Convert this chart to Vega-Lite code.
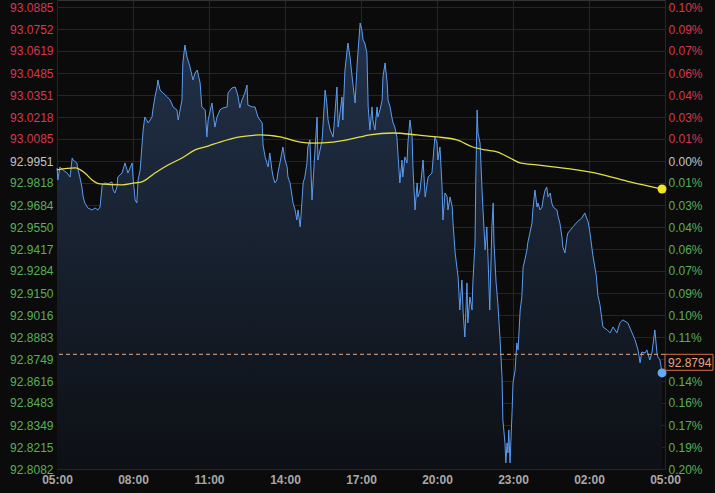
{
  "$schema": "https://vega.github.io/schema/vega-lite/v6.json",
  "width": 608,
  "height": 469,
  "autosize": {"type": "none"},
  "padding": {"left": 57, "top": 0, "right": 50, "bottom": 24},
  "background": "#0b0b0b",
  "config": {
    "view": {"stroke": "#333333", "fill": "#0b0b0b"},
    "axis": {"labelFont": "Liberation Sans", "labelFontSize": 12, "gridColor": "#262626", "gridWidth": 1, "domain": false, "ticks": false, "title": null}
  },
  "datasets": {
    "price": [
      {"t":"2024-01-01T05:00","p":92.9909},{"t":"2024-01-01T05:02","p":92.9836},{"t":"2024-01-01T05:07","p":92.9915},{"t":"2024-01-01T05:14","p":92.9897},{"t":"2024-01-01T05:24","p":92.9878},{"t":"2024-01-01T05:31","p":92.9854},{"t":"2024-01-01T05:36","p":92.9969},{"t":"2024-01-01T05:38","p":92.9957},{"t":"2024-01-01T05:47","p":92.9939},{"t":"2024-01-01T05:50","p":92.9897},{"t":"2024-01-01T05:54","p":92.9854},{"t":"2024-01-01T05:59","p":92.9793},{"t":"2024-01-01T06:02","p":92.9733},{"t":"2024-01-01T06:06","p":92.9696},{"t":"2024-01-01T06:13","p":92.9666},{"t":"2024-01-01T06:23","p":92.9654},{"t":"2024-01-01T06:30","p":92.9666},{"t":"2024-01-01T06:37","p":92.9654},{"t":"2024-01-01T06:42","p":92.9672},{"t":"2024-01-01T06:47","p":92.9806},{"t":"2024-01-01T06:54","p":92.9818},{"t":"2024-01-01T07:01","p":92.9812},{"t":"2024-01-01T07:10","p":92.9824},{"t":"2024-01-01T07:13","p":92.9775},{"t":"2024-01-01T07:17","p":92.9757},{"t":"2024-01-01T07:22","p":92.9793},{"t":"2024-01-01T07:24","p":92.9854},{"t":"2024-01-01T07:34","p":92.9878},{"t":"2024-01-01T07:41","p":92.9939},{"t":"2024-01-01T07:46","p":92.9897},{"t":"2024-01-01T07:48","p":92.9878},{"t":"2024-01-01T07:58","p":92.9939},{"t":"2024-01-01T08:00","p":92.9854},{"t":"2024-01-01T08:05","p":92.9715},{"t":"2024-01-01T08:09","p":92.9696},{"t":"2024-01-01T08:12","p":92.9836},{"t":"2024-01-01T08:17","p":92.9897},{"t":"2024-01-01T08:21","p":93.0036},{"t":"2024-01-01T08:24","p":93.0139},{"t":"2024-01-01T08:28","p":93.0218},{"t":"2024-01-01T08:36","p":93.0182},{"t":"2024-01-01T08:45","p":93.0218},{"t":"2024-01-01T08:47","p":93.0261},{"t":"2024-01-01T08:52","p":93.0340},{"t":"2024-01-01T08:57","p":93.0400},{"t":"2024-01-01T08:59","p":93.0443},{"t":"2024-01-01T09:04","p":93.0382},{"t":"2024-01-01T09:11","p":93.0364},{"t":"2024-01-01T09:21","p":93.0340},{"t":"2024-01-01T09:28","p":93.0321},{"t":"2024-01-01T09:35","p":93.0279},{"t":"2024-01-01T09:44","p":93.0261},{"t":"2024-01-01T09:47","p":93.0200},{"t":"2024-01-01T09:56","p":93.0321},{"t":"2024-01-01T09:58","p":93.0546},{"t":"2024-01-01T10:03","p":93.0655},{"t":"2024-01-01T10:08","p":93.0582},{"t":"2024-01-01T10:15","p":93.0522},{"t":"2024-01-01T10:22","p":93.0443},{"t":"2024-01-01T10:27","p":93.0485},{"t":"2024-01-01T10:32","p":93.0503},{"t":"2024-01-01T10:39","p":93.0424},{"t":"2024-01-01T10:43","p":93.0279},{"t":"2024-01-01T10:51","p":93.0261},{"t":"2024-01-01T10:55","p":93.0097},{"t":"2024-01-01T10:58","p":93.0200},{"t":"2024-01-01T11:07","p":93.0303},{"t":"2024-01-01T11:09","p":93.0261},{"t":"2024-01-01T11:14","p":93.0157},{"t":"2024-01-01T11:19","p":93.0218},{"t":"2024-01-01T11:26","p":93.0261},{"t":"2024-01-01T11:33","p":93.0273},{"t":"2024-01-01T11:43","p":93.0279},{"t":"2024-01-01T11:45","p":93.0364},{"t":"2024-01-01T11:54","p":93.0394},{"t":"2024-01-01T12:02","p":93.0400},{"t":"2024-01-01T12:06","p":93.0370},{"t":"2024-01-01T12:09","p":93.0340},{"t":"2024-01-01T12:13","p":93.0273},{"t":"2024-01-01T12:18","p":93.0321},{"t":"2024-01-01T12:25","p":93.0364},{"t":"2024-01-01T12:30","p":93.0412},{"t":"2024-01-01T12:32","p":93.0291},{"t":"2024-01-01T12:42","p":93.0279},{"t":"2024-01-01T12:49","p":93.0279},{"t":"2024-01-01T12:56","p":93.0218},{"t":"2024-01-01T13:06","p":93.0182},{"t":"2024-01-01T13:08","p":93.0048},{"t":"2024-01-01T13:13","p":92.9976},{"t":"2024-01-01T13:17","p":92.9939},{"t":"2024-01-01T13:20","p":92.9915},{"t":"2024-01-01T13:24","p":93.0000},{"t":"2024-01-01T13:29","p":92.9897},{"t":"2024-01-01T13:32","p":92.9854},{"t":"2024-01-01T13:36","p":92.9818},{"t":"2024-01-01T13:41","p":92.9836},{"t":"2024-01-01T13:43","p":92.9878},{"t":"2024-01-01T13:48","p":92.9939},{"t":"2024-01-01T13:55","p":93.0036},{"t":"2024-01-01T14:00","p":92.9957},{"t":"2024-01-01T14:05","p":92.9915},{"t":"2024-01-01T14:07","p":92.9854},{"t":"2024-01-01T14:12","p":92.9818},{"t":"2024-01-01T14:17","p":92.9733},{"t":"2024-01-01T14:19","p":92.9696},{"t":"2024-01-01T14:24","p":92.9654},{"t":"2024-01-01T14:28","p":92.9593},{"t":"2024-01-01T14:31","p":92.9654},{"t":"2024-01-01T14:36","p":92.9551},{"t":"2024-01-01T14:40","p":92.9696},{"t":"2024-01-01T14:43","p":92.9818},{"t":"2024-01-01T14:47","p":92.9854},{"t":"2024-01-01T14:52","p":92.9939},{"t":"2024-01-01T14:54","p":93.0036},{"t":"2024-01-01T14:59","p":93.0079},{"t":"2024-01-01T15:04","p":92.9715},{"t":"2024-01-01T15:11","p":93.0018},{"t":"2024-01-01T15:16","p":93.0218},{"t":"2024-01-01T15:18","p":92.9957},{"t":"2024-01-01T15:28","p":93.0079},{"t":"2024-01-01T15:35","p":93.0382},{"t":"2024-01-01T15:39","p":93.0303},{"t":"2024-01-01T15:42","p":93.0200},{"t":"2024-01-01T15:47","p":93.0139},{"t":"2024-01-01T15:54","p":93.0097},{"t":"2024-01-01T16:03","p":93.0400},{"t":"2024-01-01T16:06","p":93.0157},{"t":"2024-01-01T16:15","p":93.0340},{"t":"2024-01-01T16:17","p":93.0200},{"t":"2024-01-01T16:22","p":93.0503},{"t":"2024-01-01T16:29","p":93.0667},{"t":"2024-01-01T16:34","p":93.0582},{"t":"2024-01-01T16:39","p":93.0461},{"t":"2024-01-01T16:46","p":93.0303},{"t":"2024-01-01T16:51","p":93.0546},{"t":"2024-01-01T16:58","p":93.0788},{"t":"2024-01-01T17:02","p":93.0746},{"t":"2024-01-01T17:05","p":93.0685},{"t":"2024-01-01T17:09","p":93.0667},{"t":"2024-01-01T17:14","p":93.0606},{"t":"2024-01-01T17:17","p":93.0279},{"t":"2024-01-01T17:21","p":93.0139},{"t":"2024-01-01T17:26","p":93.0279},{"t":"2024-01-01T17:28","p":93.0200},{"t":"2024-01-01T17:33","p":93.0139},{"t":"2024-01-01T17:38","p":93.0279},{"t":"2024-01-01T17:40","p":93.0218},{"t":"2024-01-01T17:45","p":93.0261},{"t":"2024-01-01T17:50","p":93.0321},{"t":"2024-01-01T17:52","p":93.0461},{"t":"2024-01-01T17:57","p":93.0546},{"t":"2024-01-01T18:02","p":93.0424},{"t":"2024-01-01T18:04","p":93.0321},{"t":"2024-01-01T18:09","p":93.0279},{"t":"2024-01-01T18:13","p":93.0218},{"t":"2024-01-01T18:16","p":93.0182},{"t":"2024-01-01T18:20","p":93.0157},{"t":"2024-01-01T18:25","p":93.0097},{"t":"2024-01-01T18:28","p":92.9976},{"t":"2024-01-01T18:32","p":92.9818},{"t":"2024-01-01T18:37","p":92.9957},{"t":"2024-01-01T18:39","p":92.9854},{"t":"2024-01-01T18:44","p":92.9976},{"t":"2024-01-01T18:49","p":92.9939},{"t":"2024-01-01T18:51","p":93.0060},{"t":"2024-01-01T18:56","p":93.0200},{"t":"2024-01-01T19:01","p":93.0097},{"t":"2024-01-01T19:03","p":92.9915},{"t":"2024-01-01T19:08","p":92.9654},{"t":"2024-01-01T19:13","p":92.9818},{"t":"2024-01-01T19:15","p":92.9733},{"t":"2024-01-01T19:20","p":92.9775},{"t":"2024-01-01T19:27","p":92.9957},{"t":"2024-01-01T19:32","p":92.9733},{"t":"2024-01-01T19:39","p":92.9854},{"t":"2024-01-01T19:48","p":92.9878},{"t":"2024-01-01T19:55","p":93.0097},{"t":"2024-01-01T20:00","p":93.0060},{"t":"2024-01-01T20:02","p":92.9957},{"t":"2024-01-01T20:07","p":93.0036},{"t":"2024-01-01T20:12","p":92.9793},{"t":"2024-01-01T20:14","p":92.9593},{"t":"2024-01-01T20:19","p":92.9757},{"t":"2024-01-01T20:24","p":92.9733},{"t":"2024-01-01T20:26","p":92.9654},{"t":"2024-01-01T20:31","p":92.9733},{"t":"2024-01-01T20:36","p":92.9672},{"t":"2024-01-01T20:38","p":92.9575},{"t":"2024-01-01T20:43","p":92.9393},{"t":"2024-01-01T20:47","p":92.9308},{"t":"2024-01-01T20:50","p":92.9247},{"t":"2024-01-01T20:54","p":92.9047},{"t":"2024-01-01T20:59","p":92.9229},{"t":"2024-01-01T21:02","p":92.9029},{"t":"2024-01-01T21:06","p":92.8883},{"t":"2024-01-01T21:11","p":92.9211},{"t":"2024-01-01T21:13","p":92.8968},{"t":"2024-01-01T21:18","p":92.9126},{"t":"2024-01-01T21:23","p":92.9047},{"t":"2024-01-01T21:25","p":92.9211},{"t":"2024-01-01T21:30","p":92.9454},{"t":"2024-01-01T21:32","p":92.9854},{"t":"2024-01-01T21:35","p":93.0261},{"t":"2024-01-01T21:37","p":93.0121},{"t":"2024-01-01T21:42","p":93.0060},{"t":"2024-01-01T21:47","p":92.9757},{"t":"2024-01-01T21:49","p":92.9654},{"t":"2024-01-01T21:54","p":92.9411},{"t":"2024-01-01T21:58","p":92.9551},{"t":"2024-01-01T22:01","p":92.9351},{"t":"2024-01-01T22:05","p":92.9047},{"t":"2024-01-01T22:10","p":92.9551},{"t":"2024-01-01T22:13","p":92.9696},{"t":"2024-01-01T22:15","p":92.9454},{"t":"2024-01-01T22:20","p":92.9211},{"t":"2024-01-01T22:24","p":92.9090},{"t":"2024-01-01T22:29","p":92.8883},{"t":"2024-01-01T22:34","p":92.8641},{"t":"2024-01-01T22:36","p":92.8380},{"t":"2024-01-01T22:41","p":92.8240},{"t":"2024-01-01T22:43","p":92.8119},{"t":"2024-01-01T22:46","p":92.8240},{"t":"2024-01-01T22:48","p":92.8180},{"t":"2024-01-01T22:50","p":92.8319},{"t":"2024-01-01T22:53","p":92.8119},{"t":"2024-01-01T22:58","p":92.8441},{"t":"2024-01-01T23:00","p":92.8604},{"t":"2024-01-01T23:05","p":92.8683},{"t":"2024-01-01T23:09","p":92.8847},{"t":"2024-01-01T23:12","p":92.8805},{"t":"2024-01-01T23:17","p":92.9047},{"t":"2024-01-01T23:21","p":92.9126},{"t":"2024-01-01T23:24","p":92.9308},{"t":"2024-01-01T23:28","p":92.9351},{"t":"2024-01-01T23:33","p":92.9411},{"t":"2024-01-01T23:35","p":92.9454},{"t":"2024-01-01T23:40","p":92.9514},{"t":"2024-01-01T23:45","p":92.9575},{"t":"2024-01-01T23:47","p":92.9654},{"t":"2024-01-01T23:52","p":92.9775},{"t":"2024-01-01T23:57","p":92.9672},{"t":"2024-01-01T23:59","p":92.9696},{"t":"2024-01-02T00:04","p":92.9654},{"t":"2024-01-02T00:09","p":92.9672},{"t":"2024-01-02T00:11","p":92.9715},{"t":"2024-01-02T00:16","p":92.9775},{"t":"2024-01-02T00:20","p":92.9793},{"t":"2024-01-02T00:23","p":92.9733},{"t":"2024-01-02T00:28","p":92.9757},{"t":"2024-01-02T00:32","p":92.9696},{"t":"2024-01-02T00:35","p":92.9672},{"t":"2024-01-02T00:44","p":92.9654},{"t":"2024-01-02T00:47","p":92.9612},{"t":"2024-01-02T00:51","p":92.9575},{"t":"2024-01-02T00:56","p":92.9490},{"t":"2024-01-02T00:58","p":92.9430},{"t":"2024-01-02T01:03","p":92.9393},{"t":"2024-01-02T01:08","p":92.9490},{"t":"2024-01-02T01:10","p":92.9514},{"t":"2024-01-02T01:20","p":92.9545},{"t":"2024-01-02T01:32","p":92.9581},{"t":"2024-01-02T01:43","p":92.9605},{"t":"2024-01-02T01:50","p":92.9636},{"t":"2024-01-02T01:58","p":92.9581},{"t":"2024-01-02T02:02","p":92.9521},{"t":"2024-01-02T02:09","p":92.9381},{"t":"2024-01-02T02:17","p":92.9260},{"t":"2024-01-02T02:21","p":92.9138},{"t":"2024-01-02T02:26","p":92.9078},{"t":"2024-01-02T02:33","p":92.8944},{"t":"2024-01-02T02:43","p":92.8926},{"t":"2024-01-02T02:50","p":92.8908},{"t":"2024-01-02T02:57","p":92.8944},{"t":"2024-01-02T03:06","p":92.8908},{"t":"2024-01-02T03:13","p":92.8968},{"t":"2024-01-02T03:20","p":92.8987},{"t":"2024-01-02T03:32","p":92.8968},{"t":"2024-01-02T03:42","p":92.8908},{"t":"2024-01-02T03:49","p":92.8865},{"t":"2024-01-02T03:56","p":92.8805},{"t":"2024-01-02T04:01","p":92.8726},{"t":"2024-01-02T04:05","p":92.8792},{"t":"2024-01-02T04:13","p":92.8786},{"t":"2024-01-02T04:17","p":92.8805},{"t":"2024-01-02T04:24","p":92.8744},{"t":"2024-01-02T04:29","p":92.8786},{"t":"2024-01-02T04:32","p":92.8847},{"t":"2024-01-02T04:36","p":92.8926},{"t":"2024-01-02T04:41","p":92.8786},{"t":"2024-01-02T04:43","p":92.8762},{"t":"2024-01-02T04:48","p":92.8744},{"t":"2024-01-02T04:53","p":92.8665}
    ],
    "ma": [
      {"t":"2024-01-01T05:00","p":92.9897},{"t":"2024-01-01T05:43","p":92.9909},{"t":"2024-01-01T06:06","p":92.9878},{"t":"2024-01-01T06:23","p":92.9836},{"t":"2024-01-01T06:42","p":92.9812},{"t":"2024-01-01T07:34","p":92.9806},{"t":"2024-01-01T08:05","p":92.9818},{"t":"2024-01-01T08:21","p":92.9824},{"t":"2024-01-01T08:52","p":92.9878},{"t":"2024-01-01T09:23","p":92.9927},{"t":"2024-01-01T09:56","p":92.9969},{"t":"2024-01-01T10:27","p":93.0018},{"t":"2024-01-01T10:58","p":93.0042},{"t":"2024-01-01T11:26","p":93.0066},{"t":"2024-01-01T12:13","p":93.0097},{"t":"2024-01-01T13:01","p":93.0109},{"t":"2024-01-01T13:48","p":93.0097},{"t":"2024-01-01T14:36","p":93.0066},{"t":"2024-01-01T15:06","p":93.0060},{"t":"2024-01-01T15:54","p":93.0066},{"t":"2024-01-01T16:27","p":93.0079},{"t":"2024-01-01T16:58","p":93.0097},{"t":"2024-01-01T17:21","p":93.0109},{"t":"2024-01-01T18:16","p":93.0121},{"t":"2024-01-01T19:13","p":93.0109},{"t":"2024-01-01T20:00","p":93.0097},{"t":"2024-01-01T20:47","p":93.0079},{"t":"2024-01-01T21:25","p":93.0036},{"t":"2024-01-01T21:54","p":93.0018},{"t":"2024-01-01T22:22","p":93.0006},{"t":"2024-01-01T22:53","p":92.9969},{"t":"2024-01-01T23:17","p":92.9939},{"t":"2024-01-01T23:57","p":92.9927},{"t":"2024-01-02T00:35","p":92.9915},{"t":"2024-01-02T01:15","p":92.9903},{"t":"2024-01-02T02:26","p":92.9872},{"t":"2024-01-02T03:37","p":92.9824},{"t":"2024-01-02T04:53","p":92.9781}
    ],
    "ref": [{"p": 92.8778, "label": "92.8794"}]
  },
  "resolve": {"axis": {"y": "independent"}},
  "layer": [
    {
      "data": {"name": "price"},
      "mark": {"type": "area", "color": {"gradient": "linear", "x1": 0, "y1": 0, "x2": 0, "y2": 1, "stops": [{"offset": 0, "color": "#22324a"}, {"offset": 1, "color": "#0d1015"}]}},
      "encoding": {
        "x": {"field": "t", "type": "temporal",
          "scale": {"domain": [{"year": 2024, "month": 1, "date": 1, "hours": 5}, {"year": 2024, "month": 1, "date": 2, "hours": 5}]},
          "axis": {"values": [{"year": 2024, "month": 1, "date": 1, "hours": 5}, {"year": 2024, "month": 1, "date": 1, "hours": 8}, {"year": 2024, "month": 1, "date": 1, "hours": 11}, {"year": 2024, "month": 1, "date": 1, "hours": 14}, {"year": 2024, "month": 1, "date": 1, "hours": 17}, {"year": 2024, "month": 1, "date": 1, "hours": 20}, {"year": 2024, "month": 1, "date": 1, "hours": 23}, {"year": 2024, "month": 1, "date": 2, "hours": 2}, {"year": 2024, "month": 1, "date": 2, "hours": 5}],
            "format": "%H:%M", "labelColor": "#a8a8a8", "labelFontWeight": "bold", "labelPadding": 5, "labelFlush": false, "labelOverlap": false, "grid": true, "title": null}},
        "y": {"field": "p", "type": "quantitative",
          "scale": {"domain": [92.8082, 93.0928], "nice": false, "zero": false},
          "axis": {"orient": "left", "values": [93.0885, 93.0752, 93.0619, 93.0485, 93.0351, 93.0218, 93.0085, 92.9951, 92.9818, 92.9684, 92.955, 92.9417, 92.9284, 92.915, 92.9016, 92.8883, 92.8749, 92.8616, 92.8483, 92.8349, 92.8215, 92.8082],
            "format": ".4f", "grid": true, "labelPadding": 4, "labelOverlap": false, "labelBound": false,
            "labelColor": {"condition": [{"test": "datum.value > 92.996", "value": "#d8384e"}, {"test": "datum.value > 92.994", "value": "#c4c4c4"}], "value": "#58b058"}, "title": null}},
        "y2": {"datum": 92.8082}
      }
    },
    {
      "data": {"name": "price"},
      "mark": {"type": "line", "color": "#5b9cf0", "strokeWidth": 1},
      "encoding": {
        "x": {"field": "t", "type": "temporal"},
        "y": {"field": "p", "type": "quantitative",
          "axis": {"orient": "right", "values": [93.0885, 93.0752, 93.0619, 93.0485, 93.0351, 93.0218, 93.0085, 92.9951, 92.9818, 92.9684, 92.955, 92.9417, 92.9284, 92.915, 92.9016, 92.8883, 92.8616, 92.8483, 92.8349, 92.8215, 92.8082],
            "labelExpr": "format(abs(datum.value / 92.9951 - 1) * 100, '.2f') + '%'", "grid": false, "labelPadding": 3, "labelOverlap": false, "labelBound": false,
            "labelColor": {"condition": [{"test": "datum.value > 92.996", "value": "#d8384e"}, {"test": "datum.value > 92.994", "value": "#c4c4c4"}], "value": "#58b058"}, "title": null}}
      }
    },
    {
      "data": {"name": "ma"},
      "mark": {"type": "line", "color": "#e4df48", "strokeWidth": 1.3, "interpolate": "monotone"},
      "encoding": {
        "x": {"field": "t", "type": "temporal"},
        "y": {"field": "p", "type": "quantitative", "axis": null}
      }
    },
    {
      "data": {"name": "ref"},
      "mark": {"type": "rule", "color": "#e2aa86", "strokeWidth": 1, "strokeDash": [4, 3]},
      "encoding": {
        "y": {"field": "p", "type": "quantitative", "axis": null}
      }
    },
    {
      "data": {"name": "ma"},
      "transform": [{"filter": {"field": "t", "equal": {"year": 2024, "month": 1, "date": 2, "hours": 4, "minutes": 53}}}],
      "mark": {"type": "point", "filled": true, "shape": "circle", "size": 80, "color": "#f2e324", "opacity": 1},
      "encoding": {
        "x": {"field": "t", "type": "temporal"},
        "y": {"field": "p", "type": "quantitative", "axis": null}
      }
    },
    {
      "data": {"name": "price"},
      "transform": [{"filter": {"field": "t", "equal": {"year": 2024, "month": 1, "date": 2, "hours": 4, "minutes": 53}}}],
      "mark": {"type": "point", "filled": true, "shape": "circle", "size": 80, "color": "#69a7f4", "opacity": 1},
      "encoding": {
        "x": {"field": "t", "type": "temporal"},
        "y": {"field": "p", "type": "quantitative", "axis": null}
      }
    },
    {
      "data": {"name": "ref"},
      "mark": {"type": "rect", "fill": "#0b0b0b", "stroke": "#d9714a", "strokeWidth": 1, "x2Offset": 48, "y2Offset": 16},
      "encoding": {
        "x": {"datum": {"year": 2024, "month": 1, "date": 2, "hours": 5}, "type": "temporal"},
        "x2": {"datum": {"year": 2024, "month": 1, "date": 2, "hours": 5}},
        "y": {"field": "p", "type": "quantitative", "axis": null},
        "y2": {"field": "p"}
      }
    },
    {
      "data": {"name": "ref"},
      "mark": {"type": "text", "align": "left", "baseline": "middle", "dx": 3, "dy": 8.5, "font": "Liberation Sans", "fontSize": 12, "color": "#f0a27e"},
      "encoding": {
        "x": {"datum": {"year": 2024, "month": 1, "date": 2, "hours": 5}, "type": "temporal"},
        "y": {"field": "p", "type": "quantitative", "axis": null},
        "text": {"field": "label"}
      }
    }
  ]
}
